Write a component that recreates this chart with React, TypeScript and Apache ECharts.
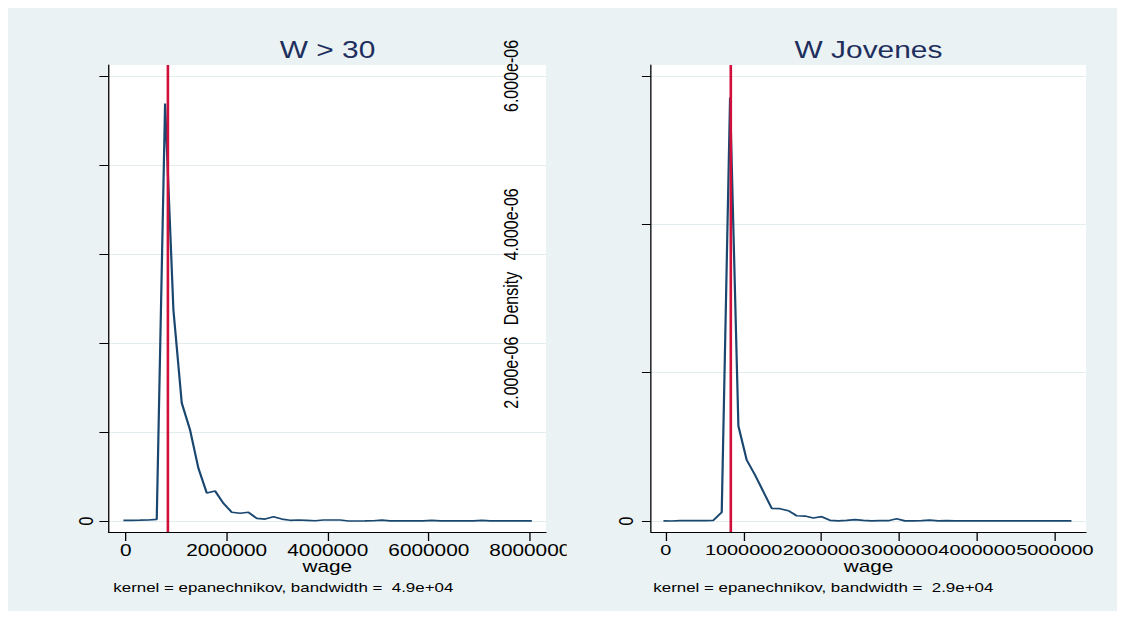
import React, { useEffect, useRef } from "react";
import * as echarts from "echarts";

// ---------- texts ----------
const leftTitle = "W > 30";
const rightTitle = "W Jovenes";
const xAxisTitle = "wage";
const yAxisTitle = "Density";
const leftNote = "kernel = epanechnikov, bandwidth =  4.9e+04";
const rightNote = "kernel = epanechnikov, bandwidth =  2.9e+04";

// ---------- data ----------
const minimumWage = 828116;
const densityUnit = 1e-6;

const leftWage = [
  -45000, 120000, 285000, 450000, 615000, 780000, 945000, 1110000, 1275000, 1440000,
  1605000, 1770000, 1935000, 2100000, 2265000, 2430000, 2595000, 2760000, 2925000, 3090000,
  3255000, 3420000, 3585000, 3750000, 3915000, 4080000, 4245000, 4410000, 4575000, 4740000,
  4905000, 5070000, 5235000, 5400000, 5565000, 5730000, 5895000, 6060000, 6225000, 6390000,
  6555000, 6720000, 6885000, 7050000, 7215000, 7380000, 7545000, 7710000, 7875000, 8040000,
];
const leftDensityE6 = [
  0.008, 0.008, 0.009, 0.011, 0.019, 4.691, 2.371, 1.326, 1.022, 0.592,
  0.315, 0.337, 0.199, 0.098, 0.087, 0.098, 0.030, 0.022, 0.048, 0.022,
  0.008, 0.011, 0.008, 0.003, 0.011, 0.011, 0.011, 0.000, 0.000, 0.001,
  0.003, 0.009, 0.001, 0.001, 0.001, 0.001, 0.001, 0.006, 0.001, 0.001,
  0.001, 0.001, 0.001, 0.008, 0.001, 0.001, 0.001, 0.001, 0.001, 0.001,
];

const rightWage = [
  -30000, 77000, 184000, 291000, 398000, 505000, 612000, 719000, 826000, 933000,
  1040000, 1147000, 1254000, 1361000, 1468000, 1575000, 1682000, 1789000, 1896000, 2003000,
  2110000, 2217000, 2324000, 2431000, 2538000, 2645000, 2752000, 2859000, 2966000, 3073000,
  3180000, 3287000, 3394000, 3501000, 3608000, 3715000, 3822000, 3929000, 4036000, 4143000,
  4250000, 4357000, 4464000, 4571000, 4678000, 4785000, 4892000, 4999000, 5106000, 5213000,
];
const rightDensityE6 = [
  0.001, 0.000, 0.004, 0.006, 0.006, 0.006, 0.009, 0.119, 5.708, 1.281,
  0.822, 0.620, 0.395, 0.171, 0.166, 0.139, 0.071, 0.067, 0.040, 0.058,
  0.009, 0.002, 0.009, 0.018, 0.009, 0.001, 0.004, 0.004, 0.031, 0.001,
  0.001, 0.004, 0.013, 0.001, 0.004, 0.001, 0.001, 0.001, 0.001, 0.001,
  0.001, 0.001, 0.001, 0.001, 0.001, 0.001, 0.001, 0.001, 0.001, 0.001,
];

// ---------- ticks ----------
const leftXTicks = [0, 2000000, 4000000, 6000000, 8000000];
const rightXTicks = [0, 1000000, 2000000, 3000000, 4000000, 5000000];
const leftYTicksE6 = [0, 1, 2, 3, 4, 5];
const leftYLabels = ["0", "", "", "", "", ""];
const rightYTicksE6 = [0, 2, 4, 6];
const rightYLabels = ["0", "2.000e-06", "4.000e-06", "6.000e-06"];

// ---------- layout (page pixels, the picture is stretched horizontally) ----------
const S = 1.3;
const px = (x: number) => (x - 8) / S;
const py = (y: number) => y - 8;
const pw = (w: number) => w / S;

const FONT = "'Liberation Sans', Arial, Helvetica, sans-serif";
const BG = "#eaf2f3";
const NAVY = "#1a476f";
const RED = "#d0103a";
const GRIDLINE = "#e3ecee";

function lookup(ticks: number[], labels: string[], v: number) {
  for (let i = 0; i < ticks.length; i++) {
    if (Math.abs(ticks[i] * densityUnit - v) < 1e-9) return labels[i];
  }
  return "";
}

function xAxisOpt(grid: number, min: number, max: number, ticks: number[], labelSize: number) {
  return {
    gridIndex: grid,
    type: "value",
    min,
    max,
    axisLine: { show: true, onZero: false, lineStyle: { color: "#000", width: 1 } },
    axisTick: { show: true, length: 9, customValues: ticks, lineStyle: { color: "#000", width: 1 } },
    axisLabel: {
      show: true,
      customValues: ticks,
      showMinLabel: true,
      showMaxLabel: true,
      hideOverlap: false,
      formatter: (v: number) => String(Math.round(v)),
      fontSize: labelSize,
      fontFamily: FONT,
      color: "#000",
      margin: 10,
    },
    splitLine: { show: false },
    name: xAxisTitle,
    nameLocation: "middle",
    nameGap: 26.5,
    nameMoveOverlap: false,
    nameTextStyle: { fontSize: 16, fontFamily: FONT, color: "#000" },
  };
}

export default function App() {
  const ref = useRef<HTMLDivElement>(null);

  useEffect(() => {
    document.body.style.overflow = "hidden";
    document.documentElement.style.overflow = "hidden";
    const chart = echarts.init(ref.current!, undefined, { renderer: "svg" });

    const leftTicks = leftYTicksE6.map((v) => v * densityUnit);
    const rightTicks = rightYTicksE6.map((v) => v * densityUnit);

    const option: any = {
      animation: false,
      backgroundColor: BG,
      textStyle: { fontFamily: FONT, color: "#000" },
      grid: [
        {
          left: px(108.5), top: py(65), width: pw(546 - 108.5), height: 532 - 65,
          show: true, backgroundColor: "#fff", borderWidth: 0, containLabel: false, outerBoundsMode: "none",
        },
        {
          left: px(651), top: py(65), width: pw(1086 - 651), height: 532 - 65,
          show: true, backgroundColor: "#fff", borderWidth: 0, containLabel: false, outerBoundsMode: "none",
        },
      ],
      xAxis: [
        xAxisOpt(0, -340000, 8320000, leftXTicks, 16),
        xAxisOpt(1, -190000, 5400000, rightXTicks, 15.3),
      ],
      yAxis: [
        {
          gridIndex: 0, type: "value", min: -0.1236e-6, max: 5.1236e-6,
          axisLine: { show: true, onZero: false, lineStyle: { color: "#000", width: 1 } },
          axisTick: { show: true, length: 7, customValues: leftTicks, lineStyle: { color: "#000", width: 1 } },
          axisLabel: {
            show: true, customValues: [0], rotate: 90, margin: 9.7,
            showMinLabel: true, showMaxLabel: true,
            formatter: (v: number) => lookup(leftYTicksE6, leftYLabels, v),
            fontSize: 16, fontFamily: FONT, color: "#000",
          },
          splitLine: { show: true, lineStyle: { color: GRIDLINE, width: 1 } },
        },
        {
          gridIndex: 1, type: "value", min: -0.1483e-6, max: 6.148e-6,
          axisLine: { show: true, onZero: false, lineStyle: { color: "#000", width: 1 } },
          axisTick: { show: true, length: 7, customValues: rightTicks, lineStyle: { color: "#000", width: 1 } },
          axisLabel: {
            show: true, customValues: [0], rotate: 90, margin: 11.6,
            showMinLabel: true, showMaxLabel: true,
            formatter: (v: number) => lookup(rightYTicksE6, rightYLabels, v),
            fontSize: 16, fontFamily: FONT, color: "#000",
          },
          splitLine: { show: true, lineStyle: { color: GRIDLINE, width: 1 } },
        },
        {
          gridIndex: 1, type: "value", min: -0.1483e-6, max: 6.148e-6, position: "left",
          offset: 91.7,
          axisLine: { show: false, onZero: false },
          axisTick: { show: false },
          splitLine: { show: false },
          axisLabel: {
            show: true, customValues: rightTicks.slice(1), rotate: 90, margin: 8,
            showMinLabel: true, showMaxLabel: true,
            formatter: (v: number) => lookup(rightYTicksE6, rightYLabels, v),
            fontSize: 16, fontFamily: FONT, color: "#000",
          },
          name: yAxisTitle,
          nameLocation: "middle",
          nameRotate: 90,
          nameGap: 8,
          nameMoveOverlap: false,
          nameTextStyle: { fontSize: 16, fontFamily: FONT, color: "#000" },
        },
      ],
      series: [
        {
          type: "line", xAxisIndex: 0, yAxisIndex: 0, z: 2,
          data: leftWage.map((w, i) => [w, leftDensityE6[i] * densityUnit]),
          showSymbol: false, symbol: "none", silent: true,
          lineStyle: { color: NAVY, width: 1.7 },
          emphasis: { disabled: true },
        },
        {
          type: "line", xAxisIndex: 0, yAxisIndex: 0, z: 3, data: [],
          markLine: {
            symbol: "none", silent: true, label: { show: false },
            lineStyle: { color: RED, width: 2, type: "solid" },
            emphasis: { disabled: true },
            data: [{ xAxis: minimumWage }],
          },
        },
        {
          type: "line", xAxisIndex: 1, yAxisIndex: 1, z: 2,
          data: rightWage.map((w, i) => [w, rightDensityE6[i] * densityUnit]),
          showSymbol: false, symbol: "none", silent: true,
          lineStyle: { color: NAVY, width: 1.7 },
          emphasis: { disabled: true },
        },
        {
          type: "line", xAxisIndex: 1, yAxisIndex: 1, z: 3, data: [],
          markLine: {
            symbol: "none", silent: true, label: { show: false },
            lineStyle: { color: RED, width: 2, type: "solid" },
            emphasis: { disabled: true },
            data: [{ xAxis: minimumWage }],
          },
        },
      ],
      graphic: [
        {
          type: "text", x: px(327.5), y: py(50.7), z: 10,
          style: {
            text: leftTitle, font: `23px ${FONT}`, fill: "#1e2f5e",
            textAlign: "center", textVerticalAlign: "middle", align: "center", verticalAlign: "middle",
          },
        },
        {
          type: "text", x: px(868.5), y: py(50.7), z: 10,
          style: {
            text: rightTitle, font: `23px ${FONT}`, fill: "#1e2f5e",
            textAlign: "center", textVerticalAlign: "middle", align: "center", verticalAlign: "middle",
          },
        },
        {
          type: "text", x: px(113.3), y: py(587.5), z: 10,
          style: {
            text: leftNote, font: `13px ${FONT}`, fill: "#000",
            textAlign: "left", textVerticalAlign: "middle", align: "left", verticalAlign: "middle",
          },
        },
        {
          type: "text", x: px(653.3), y: py(587.5), z: 10,
          style: {
            text: rightNote, font: `13px ${FONT}`, fill: "#000",
            textAlign: "left", textVerticalAlign: "middle", align: "left", verticalAlign: "middle",
          },
        },
        {
          type: "rect", z: 100, silent: true,
          shape: { x: px(566.7), y: py(541), width: pw(30), height: 22 },
          style: { fill: BG },
        },
      ],
    };

    chart.setOption(option);
    return () => chart.dispose();
  }, []);

  return (
    <div
      ref={ref}
      style={{
        width: 1117 / S,
        height: 611,
        transform: `scaleX(${S})`,
        transformOrigin: "0 0",
        marginBottom: -8,
      }}
    />
  );
}
